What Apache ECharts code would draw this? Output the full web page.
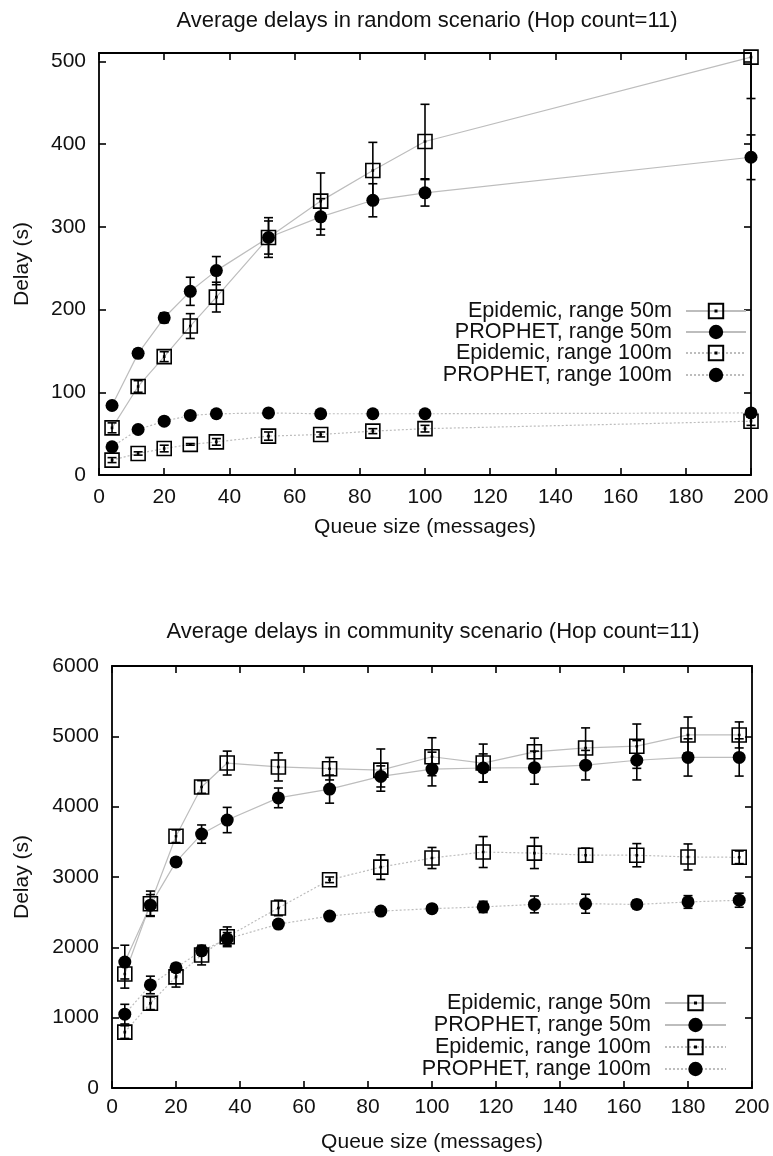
<!DOCTYPE html>
<html>
<head>
<meta charset="utf-8">
<script src="https://cdn.jsdelivr.net/npm/echarts@6/dist/echarts.min.js"></script>
<style>
  html, body { margin: 0; padding: 0; background: #fff; }
  #chart { width: 773px; height: 1156px; }
</style>
</head>
<body>
<div id="chart"></div>
<script>
// ---- Series names (shared by both panels) ----
const seriesNames = ['Epidemic, range 50m', 'PROPHET, range 50m', 'Epidemic, range 100m', 'PROPHET, range 100m'];

// ---- Panel 1: random scenario ----
const randomTitle = 'Average delays in random scenario (Hop count=11)';
const queueRandom = [4, 12, 20, 28, 36, 52, 68, 84, 100, 200];
const randEpi50 = [57, 107, 143, 180, 215, 287, 331, 368, 403, 505];
const randEpi50Err = [6, 7, 6, 15, 18, 24, 34, 34, 45, 50];
const randPro50 = [84, 147, 190, 222, 247, 287, 312, 332, 341, 384];
const randPro50Err = [4, 5, 6, 17, 17, 20, 22, 20, 16, 27];
const randEpi100 = [18, 26, 32, 37, 40, 47, 49, 53, 56, 65];
const randEpi100Err = [3, 2, 4, 1, 4, 5, 3, 3, 4, 5];
const randPro100 = [34, 55, 65, 72, 74, 75, 74, 74, 74, 75];
const randPro100Err = [3, 3, 3, 3, 3, 3, 3, 3, 3, 3];
const randomYTicks = [0, 100, 200, 300, 400, 500];
const randomYMax = 510;

// ---- Panel 2: community scenario ----
const communityTitle = 'Average delays in community scenario (Hop count=11)';
const queueCommunity = [4, 12, 20, 28, 36, 52, 68, 84, 100, 116, 132, 148, 164, 180, 196];
const commEpi50 = [1620, 2620, 3580, 4280, 4620, 4565, 4540, 4520, 4710, 4620, 4780, 4835, 4860, 5020, 5020];
const commEpi50Err = [200, 180, 90, 90, 170, 200, 160, 300, 270, 270, 195, 285, 315, 255, 185];
const commPro50 = [1790, 2600, 3215, 3610, 3810, 4125, 4250, 4430, 4535, 4550, 4555, 4590, 4660, 4700, 4700];
const commPro50Err = [240, 150, 50, 130, 180, 140, 200, 150, 240, 200, 235, 210, 280, 265, 265];
const commEpi100 = [795, 1205, 1580, 1890, 2150, 2560, 2960, 3140, 3270, 3355, 3340, 3310, 3310, 3285, 3280];
const commEpi100Err = [90, 90, 145, 140, 140, 110, 40, 175, 150, 220, 220, 100, 165, 185, 90];
const commPro100 = [1050, 1465, 1710, 1950, 2120, 2330, 2445, 2515, 2550, 2575, 2610, 2620, 2610, 2645, 2670];
const commPro100Err = [140, 125, 60, 60, 90, 60, 50, 50, 50, 80, 120, 135, 60, 90, 100];
const communityYTicks = [0, 1000, 2000, 3000, 4000, 5000, 6000];

const queueTicks = [0, 20, 40, 60, 80, 100, 120, 140, 160, 180, 200];
const xAxisName = 'Queue size (messages)';
const yAxisName = 'Delay (s)';

// ---- Styling ----
const FONT = 'Liberation Sans';
const TEXT = '#111';
const FS = 21;
const LEGEND_FS = 21.6;
const TITLE_FS = 22;
const LINE_GREY = '#bdbdbd';
const SQUARE = 'path://M1,1H15V15H1Z M7.5,7.5H8.5V8.5H7.5Z';

function tickStep(ticks) { return ticks[1] - ticks[0]; }

function mainXAxis(grid, nameGap, labelMargin) {
  return {
    gridIndex: grid, type: 'value', position: 'bottom',
    min: queueTicks[0], max: queueTicks[queueTicks.length - 1], interval: tickStep(queueTicks),
    axisLine: { show: true, onZero: false, lineStyle: { color: '#000', width: 1.8 } },
    axisTick: { show: true, inside: true, length: 7, lineStyle: { color: '#000', width: 1.6 } },
    axisLabel: { margin: labelMargin, fontSize: FS, fontFamily: FONT, color: TEXT },
    splitLine: { show: false },
    name: xAxisName, nameLocation: 'middle', nameGap: nameGap,
    nameTextStyle: { fontSize: FS, fontFamily: FONT, color: TEXT }
  };
}
function mirrorXAxis(grid) {
  return {
    gridIndex: grid, type: 'value', position: 'top',
    min: queueTicks[0], max: queueTicks[queueTicks.length - 1], interval: tickStep(queueTicks),
    axisLine: { show: true, onZero: false, lineStyle: { color: '#000', width: 1.8 } },
    axisTick: { show: true, inside: true, length: 7, lineStyle: { color: '#000', width: 1.6 } },
    axisLabel: { show: false }, splitLine: { show: false }
  };
}
function mainYAxis(grid, ticks, max, nameGap) {
  return {
    gridIndex: grid, type: 'value', position: 'left',
    min: ticks[0], max: max, interval: tickStep(ticks),
    axisLine: { show: true, onZero: false, lineStyle: { color: '#000', width: 1.8 } },
    axisTick: { show: true, inside: true, length: 7, lineStyle: { color: '#000', width: 1.6 } },
    axisLabel: {
      margin: 13, fontSize: FS, fontFamily: FONT, color: TEXT,
      formatter: v => (ticks.indexOf(v) >= 0 ? String(v) : '')
    },
    splitLine: { show: false },
    name: yAxisName, nameLocation: 'middle', nameRotate: 90, nameGap: nameGap,
    nameTextStyle: { fontSize: FS, fontFamily: FONT, color: TEXT }
  };
}
function mirrorYAxis(grid, ticks, max) {
  return {
    gridIndex: grid, type: 'value', position: 'right',
    min: ticks[0], max: max, interval: tickStep(ticks),
    axisLine: { show: true, onZero: false, lineStyle: { color: '#000', width: 1.8 } },
    axisTick: { show: true, inside: true, length: 7, lineStyle: { color: '#000', width: 1.6 } },
    axisLabel: { show: false }, splitLine: { show: false }
  };
}

function lineSeries(name, xs, ys, axisIdx, dotted, square) {
  return {
    type: 'line', name: name, xAxisIndex: axisIdx, yAxisIndex: axisIdx,
    data: xs.map((x, i) => [x, ys[i]]),
    symbol: square ? SQUARE : 'circle',
    symbolSize: square ? 14 : 13,
    symbolKeepAspect: true,
    lineStyle: { color: LINE_GREY, width: 1.2, type: dotted ? [2, 2] : 'solid' },
    itemStyle: square
      ? { color: 'transparent', borderColor: '#000', borderWidth: 1.6 }
      : { color: '#000', borderWidth: 0 },
    emphasis: { disabled: true },
    animation: false, z: 3
  };
}

// Vertical error bar with caps, clipped to the plotting area
function errorBarItem(params, api) {
  const x = api.value(0);
  const hi = api.coord([x, api.value(2)]);
  const lo = api.coord([x, api.value(1)]);
  const cs = params.coordSys;
  const yTop = Math.max(hi[1], cs.y);
  const yBot = Math.min(lo[1], cs.y + cs.height);
  const half = 4.5;
  const style = { stroke: '#000', lineWidth: 1.6 };
  const children = [{ type: 'line', shape: { x1: hi[0], y1: yTop, x2: hi[0], y2: yBot }, style: style }];
  if (hi[1] >= cs.y) children.push({ type: 'line', shape: { x1: hi[0] - half, y1: hi[1], x2: hi[0] + half, y2: hi[1] }, style: style });
  if (lo[1] <= cs.y + cs.height) children.push({ type: 'line', shape: { x1: lo[0] - half, y1: lo[1], x2: lo[0] + half, y2: lo[1] }, style: style });
  return { type: 'group', children: children };
}

function errorSeries(xs, ys, errs, axisIdx) {
  return {
    type: 'custom', xAxisIndex: axisIdx, yAxisIndex: axisIdx,
    data: xs.map((x, i) => [x, ys[i] - errs[i], ys[i] + errs[i]]),
    encode: { x: 0, y: [1, 2] },
    renderItem: errorBarItem, silent: true, animation: false, z: 4
  };
}

// One legend block per row: text right-aligned, line sample with marker on the right
function legendRows(rowCenters, right, itemWidth) {
  return seriesNames.map((name, i) => ({
    data: [name], orient: 'horizontal', align: 'right',
    right: right, top: rowCenters[i] - 11,
    itemWidth: itemWidth, itemHeight: 18, padding: 0, selectedMode: false,
    textStyle: { fontSize: LEGEND_FS, fontFamily: FONT, color: TEXT, padding: [0, 9, 0, 0] }
  }));
}

const chart = echarts.init(document.getElementById('chart'), null, { renderer: 'canvas' });

chart.setOption({
  backgroundColor: '#fff',
  animation: false,
  title: [
    { text: randomTitle, left: 427, top: 10, textAlign: 'center', padding: 0,
      textStyle: { fontSize: TITLE_FS, fontWeight: 'normal', fontFamily: FONT, color: TEXT } },
    { text: communityTitle, left: 433, top: 621, textAlign: 'center', padding: 0,
      textStyle: { fontSize: TITLE_FS, fontWeight: 'normal', fontFamily: FONT, color: TEXT } }
  ],
  grid: [
    { left: 99, right: 22, top: 53, bottom: 681, containLabel: false, outerBoundsMode: 'none' },
    { left: 112, right: 21, top: 666, bottom: 68, containLabel: false, outerBoundsMode: 'none' }
  ],
  xAxis: [mainXAxis(0, 42, 12), mirrorXAxis(0), mainXAxis(1, 44, 9), mirrorXAxis(1)],
  yAxis: [
    mainYAxis(0, randomYTicks, randomYMax, 66), mirrorYAxis(0, randomYTicks, randomYMax),
    mainYAxis(1, communityYTicks, communityYTicks[communityYTicks.length - 1], 79),
    mirrorYAxis(1, communityYTicks, communityYTicks[communityYTicks.length - 1])
  ],
  legend: legendRows([311, 332, 353, 375], 26, 60).concat(legendRows([1003, 1025, 1047, 1069], 46, 61)),
  series: [
    // random scenario (axes 0)
    lineSeries(seriesNames[0], queueRandom, randEpi50, 0, false, true),
    lineSeries(seriesNames[1], queueRandom, randPro50, 0, false, false),
    lineSeries(seriesNames[2], queueRandom, randEpi100, 0, true, true),
    lineSeries(seriesNames[3], queueRandom, randPro100, 0, true, false),
    errorSeries(queueRandom, randEpi50, randEpi50Err, 0),
    errorSeries(queueRandom, randPro50, randPro50Err, 0),
    errorSeries(queueRandom, randEpi100, randEpi100Err, 0),
    errorSeries(queueRandom, randPro100, randPro100Err, 0),
    // community scenario (axes 2)
    lineSeries(seriesNames[0], queueCommunity, commEpi50, 2, false, true),
    lineSeries(seriesNames[1], queueCommunity, commPro50, 2, false, false),
    lineSeries(seriesNames[2], queueCommunity, commEpi100, 2, true, true),
    lineSeries(seriesNames[3], queueCommunity, commPro100, 2, true, false),
    errorSeries(queueCommunity, commEpi50, commEpi50Err, 2),
    errorSeries(queueCommunity, commPro50, commPro50Err, 2),
    errorSeries(queueCommunity, commEpi100, commEpi100Err, 2),
    errorSeries(queueCommunity, commPro100, commPro100Err, 2)
  ]
});
</script>
</body>
</html>
